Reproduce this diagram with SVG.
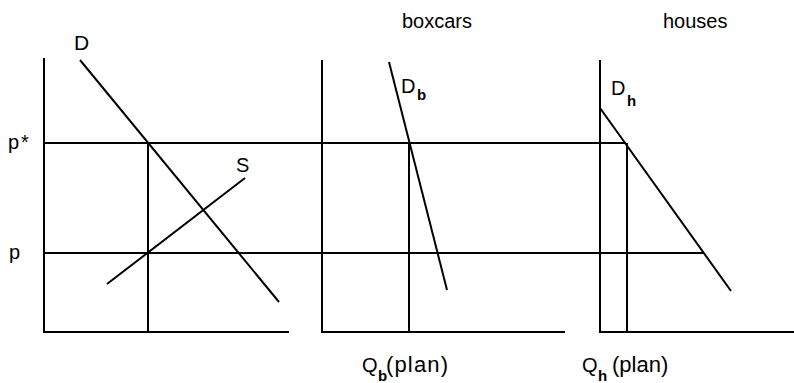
<svg xmlns="http://www.w3.org/2000/svg" width="794" height="383" viewBox="0 0 794 383">
<style>
.ln{stroke:#000;stroke-width:2;fill:none;stroke-linecap:butt}
.t{font-family:"Liberation Sans","DejaVu Sans",sans-serif;font-size:20px;fill:#000}
.pl{font-family:"Liberation Sans","DejaVu Sans",sans-serif;font-size:22px;fill:#000}
.s{font-family:"Liberation Sans","DejaVu Sans",sans-serif;font-size:15px;font-weight:bold;fill:#000}
</style>
<rect width="794" height="383" fill="#fff"/>
<g id="axes">
<path class="ln" d="M44 58 V332 H289"/>
<path class="ln" d="M322 60 V332 H565"/>
<path class="ln" d="M600 60 V332 H794"/>
</g>
<g id="price-lines">
<path class="ln" d="M44 143 H626"/>
<path class="ln" d="M44 253 H704"/>
</g>
<g id="quantity-lines">
<path class="ln" d="M148 143 V332"/>
<path class="ln" d="M409 143 V332"/>
<path class="ln" d="M627 143 V332"/>
</g>
<g id="curves">
<path class="ln" d="M80 60 L279 302"/>
<path class="ln" d="M107 284 L245 178"/>
<path class="ln" d="M389 62 L447 290"/>
<path class="ln" d="M600 108 L731 291"/>
</g>
<g id="labels">
<text class="t" x="74" y="50" style="font-size:21px">D</text>
<text class="t" x="236" y="172">S</text>
<text class="t" x="8" y="149" letter-spacing="2">p*</text>
<text class="t" x="9" y="259">p</text>
<text class="t" x="402" y="28">boxcars</text>
<text class="t" x="663" y="28">houses</text>
<text class="t" x="401" y="93">D</text><text class="s" x="417" y="100">b</text>
<text class="t" x="611" y="95">D</text><text class="s" x="627" y="106">h</text>
<text class="t" x="362" y="372">Q</text><text class="s" x="378" y="381">b</text>
<text class="pl" x="386" y="372" textLength="62" lengthAdjust="spacing">(plan)</text>
<text class="t" x="582" y="372">Q</text><text class="s" x="598" y="381">h</text>
<text class="pl" x="612" y="372">(plan)</text>
</g>
</svg>
